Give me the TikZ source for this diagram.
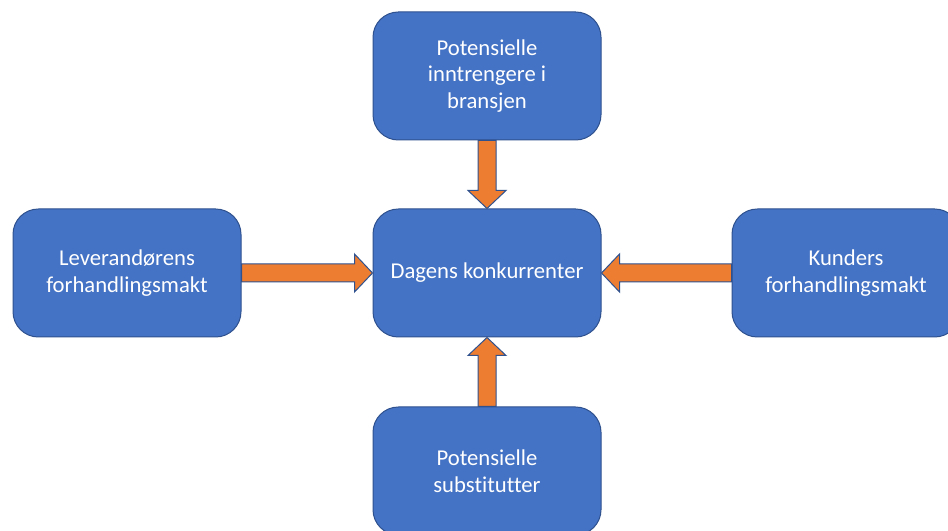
\documentclass[tikz,border=0pt]{standalone}
\usepackage{fontspec}
\setmainfont{Carlito}[Ligatures=NoCommon]
\usetikzlibrary{calc}

\definecolor{boxblue}{HTML}{4472C4}
\definecolor{boxline}{HTML}{2F528F}
\definecolor{arrorange}{HTML}{ED7D31}

\tikzset{
	force/.style={draw=boxline, fill=boxblue, line width=0.75pt, rounded corners=19pt,
		minimum width=171pt, minimum height=96pt, text=white, align=center,
		font=\fontsize{17}{20}\selectfont},
	push/.style={draw=boxline, fill=arrorange, line width=0.75pt, line join=miter}
}

\begin{document}
\begin{tikzpicture}[x=0.75pt,y=0.75pt]
		\clip (0,0) rectangle (948,531);
		\fill[white] (0,0) rectangle (948,531);
		
		% the five forces
		\node[force] (mid) at (487,258) {Dagens konkurrenter};
		\node[force] (top) at (487,455) {Potensielle\\inntrengere i\\bransjen};
		\node[force] (left) at (127,258) {Leverandørens\\forhandlingsmakt};
		\node[force] (right) at (846,258) {Kunders\\forhandlingsmakt};
		\node[force] (bottom) at (487,60) {Potensielle\\substitutter};
		
		% block arrows
		\draw[push] ($(top.south)+(-9,0)$) -- ($(mid.north)+(-9,18)$) -- ($(mid.north)+(-19,18)$)
			-- (mid.north) -- ($(mid.north)+(19,18)$) -- ($(mid.north)+(9,18)$) -- ($(top.south)+(9,0)$) -- cycle;
		\draw[push] ($(bottom.north)+(-9,0)$) -- ($(mid.south)+(-9,-18)$) -- ($(mid.south)+(-19,-18)$)
			-- (mid.south) -- ($(mid.south)+(19,-18)$) -- ($(mid.south)+(9,-18)$) -- ($(bottom.north)+(9,0)$) -- cycle;
		\draw[push] ($(left.east)+(0,9)$) -- ($(mid.west)+(-18,9)$) -- ($(mid.west)+(-18,19)$)
			-- (mid.west) -- ($(mid.west)+(-18,-19)$) -- ($(mid.west)+(-18,-9)$) -- ($(left.east)+(0,-9)$) -- cycle;
		\draw[push] ($(right.west)+(0,9)$) -- ($(mid.east)+(18,9)$) -- ($(mid.east)+(18,19)$)
			-- (mid.east) -- ($(mid.east)+(18,-19)$) -- ($(mid.east)+(18,-9)$) -- ($(right.west)+(0,-9)$) -- cycle;
	\end{tikzpicture}
\end{document}
